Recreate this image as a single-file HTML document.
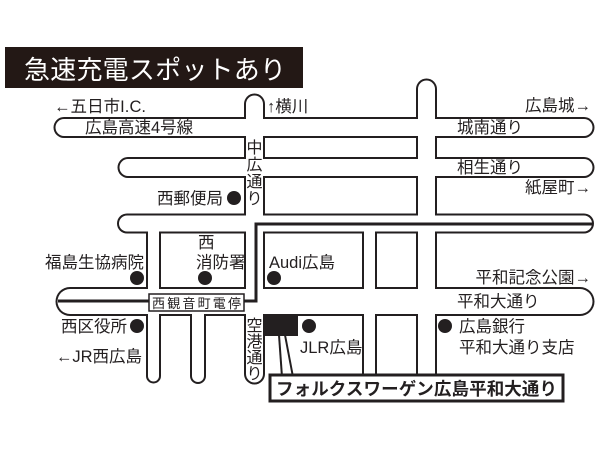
<!DOCTYPE html>
<html><head><meta charset="utf-8"><style>
html,body{margin:0;padding:0;background:#fff;}
svg{display:block;}
text{font-family:"Liberation Sans","Noto Sans CJK JP",sans-serif;fill:#231f20;}
</style></head><body>
<svg width="600" height="450" viewBox="0 0 600 450" xmlns="http://www.w3.org/2000/svg">
<rect width="600" height="450" fill="#fff"/>
<rect x="5" y="47" width="298" height="41" fill="#231815"/>
<text x="24" y="79" font-size="26" textLength="262" style="fill:#fff">急速充電スポットあり</text>

<g fill="none" stroke="#231f20" stroke-linecap="round">
  <line x1="64" y1="127.5" x2="584" y2="127.5" stroke-width="21"/>
  <line x1="128" y1="167.5" x2="584" y2="167.5" stroke-width="21"/>
  <line x1="127" y1="223.5" x2="584" y2="223.5" stroke-width="20"/>
  <line x1="70" y1="301.5" x2="580" y2="301.5" stroke-width="29"/>
  <line x1="254.5" y1="104" x2="254.5" y2="374" stroke-width="21"/>
  <line x1="426.5" y1="89" x2="426.5" y2="300" stroke-width="21"/>
  <line x1="153.5" y1="224" x2="153.5" y2="376" stroke-width="15"/>
  <line x1="198" y1="300" x2="198" y2="376" stroke-width="16"/>
</g>
<g fill="none" stroke="#231f20" stroke-linecap="butt">
  <line x1="426.5" y1="290" x2="426.5" y2="374" stroke-width="21"/>
  <line x1="369.5" y1="224" x2="369.5" y2="374" stroke-width="15"/>
</g>
<g fill="none" stroke="#fff" stroke-linecap="round">
  <line x1="64" y1="127.5" x2="584" y2="127.5" stroke-width="17"/>
  <line x1="128" y1="167.5" x2="584" y2="167.5" stroke-width="17"/>
  <line x1="127" y1="223.5" x2="584" y2="223.5" stroke-width="16"/>
  <line x1="70" y1="301.5" x2="580" y2="301.5" stroke-width="25"/>
  <line x1="254.5" y1="104" x2="254.5" y2="374" stroke-width="17"/>
  <line x1="426.5" y1="89" x2="426.5" y2="300" stroke-width="17"/>
  <line x1="153.5" y1="224" x2="153.5" y2="376" stroke-width="11"/>
  <line x1="198" y1="300" x2="198" y2="376" stroke-width="12"/>
</g>
<g fill="none" stroke="#fff" stroke-linecap="butt">
  <line x1="426.5" y1="290" x2="426.5" y2="376" stroke-width="17"/>
  <line x1="369.5" y1="224" x2="369.5" y2="376" stroke-width="11"/>
</g>
<polyline points="592,224 256,224 256,301 58,301" fill="none" stroke="#231f20" stroke-width="3"/>
<rect x="149" y="294" width="95" height="17" fill="#fff" stroke="#231f20" stroke-width="1.5"/>
<text x="152" y="308" font-size="13" textLength="89">西観音町電停</text>

<rect x="264" y="315" width="34" height="21" fill="#231f20"/>
<line x1="279" y1="335" x2="282" y2="377" stroke="#231f20" stroke-width="2"/>
<line x1="285" y1="335" x2="293" y2="377" stroke="#231f20" stroke-width="2"/>
<rect x="270" y="375" width="293" height="26" fill="#fff" stroke="#231f20" stroke-width="3"/>
<text x="276" y="395" font-size="17.5" font-weight="bold" textLength="281">フォルクスワーゲン広島平和大通り</text>

<g fill="#231f20">
<circle cx="234" cy="198" r="7"/>
<circle cx="137" cy="278" r="7"/>
<circle cx="205" cy="278" r="7"/>
<circle cx="274" cy="278" r="7"/>
<circle cx="137" cy="326" r="7"/>
<circle cx="309" cy="326" r="7"/>
<circle cx="445" cy="326" r="7"/>
</g>

<g font-size="16.5">
<text x="54" y="112" textLength="92">←五日市I.C.</text>
<text x="267" y="112">↑横川</text>
<text x="591" y="111" text-anchor="end">広島城→</text>
<text x="85" y="133">広島高速4号線</text>
<text x="457" y="133">城南通り</text>
<text x="457" y="173">相生通り</text>
<text x="591" y="193" text-anchor="end">紙屋町→</text>
<text x="223" y="204" text-anchor="end">西郵便局</text>
<text x="144" y="268" text-anchor="end">福島生協病院</text>
<text x="198" y="248">西</text>
<text x="196" y="268">消防署</text>
<text x="269" y="268">Audi広島</text>
<text x="591" y="283" text-anchor="end">平和記念公園→</text>
<text x="457" y="307">平和大通り</text>
<text x="127" y="332" text-anchor="end">西区役所</text>
<text x="142" y="362" text-anchor="end">←JR西広島</text>
<text x="300" y="353">JLR広島</text>
<text x="459" y="332">広島銀行</text>
<text x="459" y="353">平和大通り支店</text>
</g>
<g font-size="16" text-anchor="middle">
<text x="254.5" y="153">中</text>
<text x="254.5" y="170">広</text>
<text x="254.5" y="187">通</text>
<text x="254.5" y="204">り</text>
<text x="254.5" y="331">空</text>
<text x="254.5" y="347">港</text>
<text x="254.5" y="363">通</text>
<text x="254.5" y="379">り</text>
</g>
</svg>
</body></html>
